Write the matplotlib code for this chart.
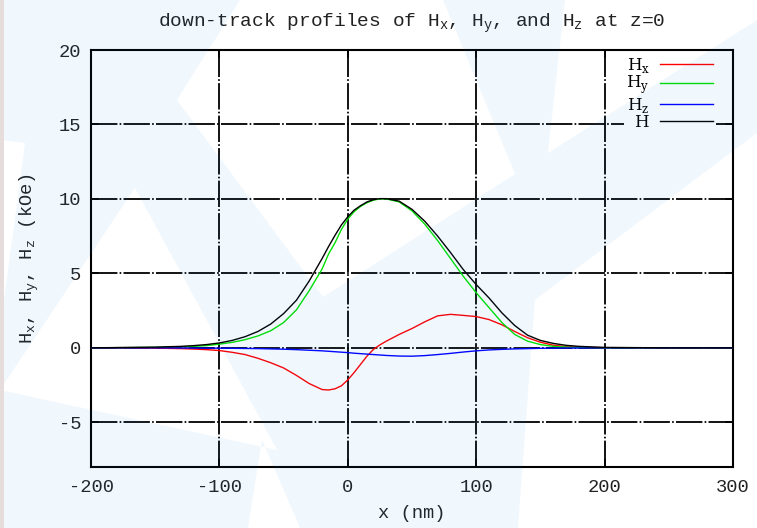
import numpy as np
import matplotlib
matplotlib.use('Agg')
from matplotlib import pyplot as plt
from matplotlib.path import Path
from matplotlib.patches import PathPatch, Rectangle

# down-track position (nm)
x_nm = [-200, -150, -130, -120, -110, -100, -90, -80, -70, -60, -50, -40, -30, -20, -15,
        -10, -5, 0, 5, 10, 15, 20, 25, 30, 40, 50, 60, 70, 80, 90, 100, 110, 120, 130,
        140, 150, 160, 170, 180, 200, 250, 300]

# field components (kOe)
hx = [0, -0.02, -0.05, -0.08, -0.12, -0.18, -0.3, -0.45, -0.7, -1.0, -1.35, -1.85, -2.4, -2.8, -2.83,
      -2.75, -2.55, -2.15, -1.65, -1.1, -0.55, -0.1, 0.2, 0.45, 0.9, 1.3, 1.75, 2.15, 2.25, 2.18, 2.1, 1.9, 1.55, 1.1,
      0.68, 0.38, 0.18, 0.08, 0.04, 0.01, 0, 0]
hy = [0, 0.03, 0.07, 0.1, 0.15, 0.25, 0.37, 0.55, 0.8, 1.15, 1.7, 2.55, 3.85, 5.3, 6.3,
      7.05, 7.95, 8.65, 9.15, 9.5, 9.75, 9.92, 10.0, 10.0, 9.8, 9.2, 8.3, 7.2, 6.0, 4.8, 3.7, 2.7, 1.7, 0.9,
      0.45, 0.22, 0.1, 0.05, 0.02, 0, 0, 0]
hz = [0, 0, -0.01, -0.01, -0.02, -0.02, -0.03, -0.04, -0.05, -0.07, -0.09, -0.12, -0.16, -0.2, -0.23,
      -0.26, -0.29, -0.32, -0.36, -0.39, -0.42, -0.45, -0.48, -0.51, -0.55, -0.56, -0.52, -0.45, -0.37, -0.28, -0.2, -0.14, -0.1, -0.07,
      -0.05, -0.03, -0.02, -0.01, -0.01, 0, 0, 0]
h_tot = [0, 0.05, 0.1, 0.15, 0.22, 0.33, 0.5, 0.75, 1.1, 1.6, 2.3, 3.2, 4.5, 6.0, 6.8,
         7.55, 8.25, 8.8, 9.25, 9.55, 9.8, 9.95, 10.02, 10.02, 9.85, 9.3, 8.5, 7.5, 6.4, 5.25, 4.25, 3.35, 2.35, 1.5,
         0.85, 0.5, 0.3, 0.17, 0.1, 0.03, 0, 0]

series_labels = [r'$\mathsf{H}_\mathsf{x}$', r'$\mathsf{H}_\mathsf{y}$', r'$\mathsf{H}_\mathsf{z}$', r'$\mathsf{H}$']
series_colors = ['#ff0000', '#00e000', '#0000ff', '#000000']

x_ticks = [-200, -100, 0, 100, 200, 300]
y_ticks = [-5, 0, 5, 10, 15, 20]

plt.rcParams['font.family'] = ['Liberation Mono', 'DejaVu Sans Mono']
plt.rcParams['mathtext.fontset'] = 'custom'
plt.rcParams['mathtext.rm'] = 'Liberation Mono'
plt.rcParams['mathtext.sf'] = 'DejaVu Serif'
plt.rcParams['lines.scale_dashes'] = False
plt.rcParams['axes.unicode_minus'] = False

W, H = 757, 528
fig = plt.figure(figsize=(W / 100, H / 100), dpi=100)
fig.patch.set_facecolor('white')
ax = fig.add_axes([91 / W, 1 - 467 / H, 642 / W, 417 / H])

for y, lab, col in zip([hx, hy, hz, h_tot], series_labels, series_colors):
    ax.plot(x_nm, y, color=col, lw=1.0, label=lab, zorder=3)

ax.set_xlim(-200, 300)
ax.set_ylim(-8, 20)
ax.set_xticks(x_ticks)
ax.set_yticks(y_ticks)
ax.tick_params(direction='in', top=True, right=True, length=6, width=1.2,
               labelsize=13.5, labelcolor='#222222')
ax.tick_params(axis='x', pad=9)
ax.tick_params(axis='y', pad=7)
ax.grid(True, color='black', lw=1.3, linestyle=(0, (19, 1.6, 1.2, 1.6)), zorder=1)
for s in ax.spines.values():
    s.set_linewidth(1.5)

ax.set_title('down-track profiles of H$_\\mathrm{x}$, H$_\\mathrm{y}$, and H$_\\mathrm{z}$ at z=0',
             fontsize=14, pad=17, color='#222222')
ax.set_xlabel('x (nm)', fontsize=13.5, labelpad=6, color='#222222')
ax.set_ylabel('H$_\\mathrm{x}$, H$_\\mathrm{y}$, H$_\\mathrm{z}$ (kOe)', fontsize=13.5,
              labelpad=13, color='#222222')

leg = ax.legend(loc='upper right', bbox_to_anchor=(1 - 17.5 / 642, 1 - 3.5 / 417),
                markerfirst=False, fontsize=12, handlelength=3.2,
                handletextpad=0.6, labelspacing=-0.05, borderpad=0.15, borderaxespad=0,
                frameon=True, fancybox=False, edgecolor='none', facecolor='white', framealpha=1)
leg.set_zorder(5)

# faint watermark on top of everything (pixel coords, origin top-left)
white_parts = [
    [(240, 0), (443, 0), (515, 174), (323, 297), (177, 100)],
    [(565, 0), (757, 0), (757, 20), (548, 153)],
    [(757, 133), (535, 300), (518, 528), (757, 528)],
    [(135, 188), (0, 390), (277, 450)],
    [(0, 140), (25, 143), (0, 330)],
    [(262, 440), (300, 528), (248, 528)],
]


def to_fig(pts):
    return [(px / W, 1 - py / H) for px, py in pts]


def area(pts):
    a = 0
    for i in range(len(pts)):
        x0, y0 = pts[i]
        x1, y1 = pts[(i + 1) % len(pts)]
        a += x0 * y1 - x1 * y0
    return a / 2


verts, codes = [], []
outer = to_fig([(0, 0), (W, 0), (W, H), (0, H)])
if area(outer) < 0:
    outer = outer[::-1]
verts += outer + [outer[0]]
codes += [Path.MOVETO] + [Path.LINETO] * (len(outer) - 1) + [Path.CLOSEPOLY]
for poly in white_parts:
    p = to_fig(poly)
    if area(p) > 0:
        p = p[::-1]
    verts += p + [p[0]]
    codes += [Path.MOVETO] + [Path.LINETO] * (len(p) - 1) + [Path.CLOSEPOLY]

wm = PathPatch(Path(verts, codes), transform=fig.transFigure, facecolor=(0.12, 0.55, 0.92),
               edgecolor='none', alpha=0.06, zorder=100)
fig.add_artist(wm)
fig.add_artist(Rectangle((0, 0), 4 / W, 1, transform=fig.transFigure,
                         facecolor='#e6dcdc', edgecolor='none', zorder=101))

fig.savefig('out.png', dpi=100)
